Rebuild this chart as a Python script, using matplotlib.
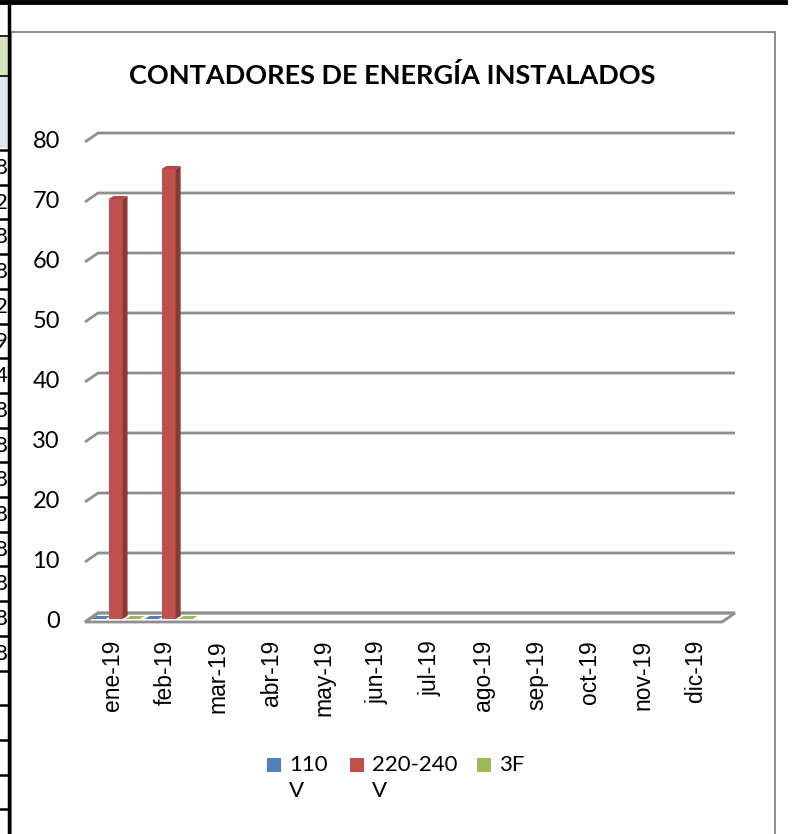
import numpy as np
import matplotlib
matplotlib.use("Agg")
import matplotlib.pyplot as plt
from matplotlib.patches import Rectangle, Polygon

# ---------------- data ----------------
categories = ['ene-19', 'feb-19', 'mar-19', 'abr-19', 'may-19', 'jun-19',
              'jul-19', 'ago-19', 'sep-19', 'oct-19', 'nov-19', 'dic-19']
nan = np.nan
v110 = [0, 0, nan, nan, nan, nan, nan, nan, nan, nan, nan, nan]
v220 = [70, 75, nan, nan, nan, nan, nan, nan, nan, nan, nan, nan]
v3f = [0, 0, nan, nan, nan, nan, nan, nan, nan, nan, nan, nan]
series_names = ['110 V', '220-240 V', '3F']
legend_lines = ['110\nV', '220-240\nV', '3F']
yticks = [0, 10, 20, 30, 40, 50, 60, 70, 80]
title = 'CONTADORES DE ENERGÍA INSTALADOS'
left_digits = ['8', '2', '8', '8', '2', '9', '4', '8', '8', '8', '8', '8', '8', '8', '8']

# colours (front, side, top)
colors = {
    '110 V': ('#4F81BD', '#385D8A', '#4A7AB3'),
    '220-240 V': ('#C0504D', '#8C3836', '#B34744'),
    '3F': ('#9BBB59', '#71893F', '#93B254'),
}
GRID = '#8E8E8E'

W, H = 792, 834
fig = plt.figure(figsize=(W / 100, H / 100), dpi=100)

# ---------- background overlay in pixel coordinates ----------
bg = fig.add_axes([0, 0, 1, 1], zorder=0)
bg.set_xlim(0, W)
bg.set_ylim(H, 0)
bg.axis('off')

# spreadsheet fragments on the left / top
bg.add_patch(Rectangle((0, 37), 8, 38, facecolor='#D8E4BC', edgecolor='none'))
bg.add_patch(Rectangle((0, 76), 8, 72, facecolor='#DCE6F1', edgecolor='none'))
bg.plot([0, 8], [36, 36], color='black', lw=1.2)
bg.plot([0, 8], [75.5, 75.5], color='black', lw=1.2)
row_lines = [150 + 34.7 * k for k in range(20)]
for yl in row_lines:
    bg.plot([0, 8], [yl, yl], color='black', lw=1.8)
for k, d in enumerate(left_digits):
    yc = 150 + 34.7 * k + 18
    bg.text(7.5, yc, d, ha='right', va='center', fontsize=16, family='Lato',
            color='black')
bg.plot([8.5, 8.5], [0, H], color='black', lw=2.5)
bg.plot([0, 785], [1.8, 1.8], color='black', lw=3.5)
# chart area frame
bg.add_patch(Rectangle((10.5, 32), 764, 820, facecolor='white',
                       edgecolor='#8A8A8A', lw=1.4, zorder=0.5))

# title
bg.text(392, 75, title, ha='center', va='center', fontsize=19.5,
        fontweight='bold', family='Lato', color='black')

# ---------- main chart axes ----------
x_left, x_right, y_bot, y_top = 91.5, 728.5, 617.5, 137.5
ax = fig.add_axes([x_left / W, 1 - y_bot / H, (x_right - x_left) / W,
                   (y_bot - y_top) / H], zorder=1)
ax.set_xlim(-0.5, len(categories) - 0.5)
ax.set_ylim(0, 80)
ax.axis('off')
ax.patch.set_alpha(0)

pxx = (x_right - x_left) / len(categories)   # pixels per x unit
pxy = (y_bot - y_top) / 80.0                  # pixels per y unit
DX, DY = 6.5 / pxx, 4.5 / pxy                 # half depth of the floor
BX, BY = 2.5 / pxx, 1.5 / pxy                 # half depth of a bar
x0a, x1a = -0.5, len(categories) - 0.5

# floor
ax.add_patch(Polygon([(x0a - DX, -DY), (x1a - DX, -DY), (x1a + DX, DY),
                      (x0a + DX, DY)], closed=True, facecolor='white',
                     edgecolor=GRID, lw=2, clip_on=False, zorder=1))
# gridlines (back wall + left wall)
for v in yticks:
    ax.plot([x0a - DX, x0a + DX, x1a + DX], [v - DY, v + DY, v + DY],
            color=GRID, lw=2, clip_on=False, zorder=2, solid_capstyle='butt')
    ax.text(x0a - DX - 25 / pxx, v - DY, str(v), ha='right', va='center',
            fontsize=17, family='Lato', color='black', clip_on=False)

# x labels
for i, c in enumerate(categories):
    ax.text(i - 6.0 / pxx, -22.5 / pxy, c, rotation=90, ha='center', va='top',
            fontsize=16.5, family='Liberation Sans', color='black',
            clip_on=False, rotation_mode='default')

# bars
width = 0.264
offsets = [-0.32, 0.0, 0.32]
all_series = [v110, v220, v3f]
for i in range(len(categories)):
    for s, (name, vals) in enumerate(zip(series_names, all_series)):
        v = vals[i]
        if v is None or np.isnan(v):
            continue
        front, side, top = colors[name]
        xa = i + offsets[s] - width / 2
        xb = xa + width
        z = 3 + i + 0.1 * s
        if v > 0:
            ax.add_patch(Rectangle((xa - BX, -BY), width, v, facecolor=front,
                                   edgecolor='none', clip_on=False, zorder=z))
            ax.add_patch(Polygon([(xb - BX, -BY), (xb + BX, BY),
                                  (xb + BX, v + BY), (xb - BX, v - BY)],
                                 closed=True, facecolor=side, edgecolor='none',
                                 clip_on=False, zorder=z))
        ax.add_patch(Polygon([(xa - BX, v - BY), (xb - BX, v - BY),
                              (xb + BX, v + BY), (xa + BX, v + BY)],
                             closed=True, facecolor=top if v > 0 else front,
                             edgecolor='none', clip_on=False, zorder=z))

# legend (manual, Excel style with wrapped labels)
leg_x = [267, 350, 477]
for name, lab, lx in zip(series_names, legend_lines, leg_x):
    bg.add_patch(Rectangle((lx, 758), 14, 14, facecolor=colors[name][0],
                           edgecolor='none', zorder=3))
    bg.text(lx + 22, 755, lab, ha='left', va='top', fontsize=16,
            family='Lato', linespacing=1.4, color='black', zorder=3)

fig.savefig('out.png', dpi=100)
